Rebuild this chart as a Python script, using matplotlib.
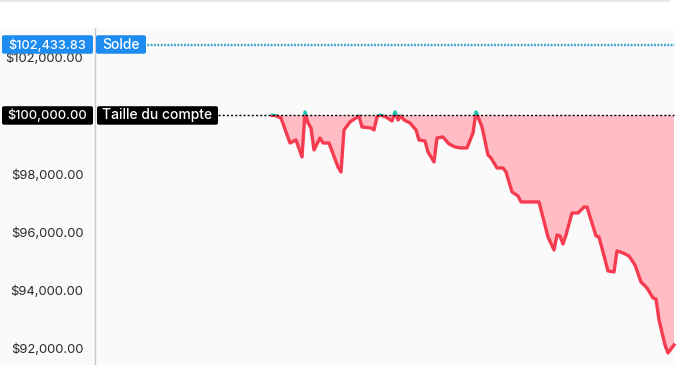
import matplotlib
matplotlib.use("Agg")
import matplotlib.pyplot as plt
import matplotlib.transforms as mtransforms
from matplotlib.patches import FancyBboxPatch, Rectangle
from matplotlib.lines import Line2D
import numpy as np

plt.rcParams['font.family'] = ['Inter', 'DejaVu Sans']

# ---- data ----
days = [0, 1, 3, 6, 8, 10, 11, 12, 13, 14, 16, 17, 19, 22, 23, 24, 26, 27, 29, 30,
        33, 34, 35, 36, 38, 40, 41, 42, 43, 44, 46, 48, 49, 51, 52, 54, 55, 57, 59, 61,
        63, 65, 67, 68, 70, 72, 73, 75, 77, 78, 80, 82, 83, 85, 89, 92, 94, 95, 96, 97,
        98, 100, 102, 104, 105, 108, 109, 112, 114, 115, 117, 119, 121, 123, 125, 127, 128, 129, 131, 132,
        134]
balance = [100000, 100000, 99914, 99057, 99160, 98576, 100120, 99743, 99571, 98817,
           99228, 99057, 99057, 98233, 98062, 99503, 99777, 99846, 99983, 99605,
           99571, 99503, 99949, 100017, 99949, 99811, 100120, 99846, 99983, 99846,
           99743, 99503, 99160, 99125, 98748, 98405, 99228, 99262, 99022, 98919,
           98885, 98885, 99400, 100120, 99605, 98645, 98542, 98199, 98199, 98062,
           97376, 97238, 97033, 97033, 97033, 95832, 95386, 95901, 95866, 95592,
           95901, 96655, 96655, 96861, 96861, 95866, 95832, 94666, 94631, 95352,
           95283, 95180, 94871, 94288, 94082, 93739, 93705, 92985, 92127, 91852,
           92127]
account_size = 100000.00
solde = 102433.83
# the 100,000 tick is covered by the account-size badge in the reference
yticks = [92000, 94000, 96000, 98000, 102000]
label_solde = "Solde"
label_size = "Taille du compte"

days = np.array(days, dtype=float)
balance = np.array(balance, dtype=float)

W, H = 680, 365
fig = plt.figure(figsize=(W / 100, H / 100), dpi=100, facecolor='white')

# background panel
bg = '#fafafa'
fig.patches.append(Rectangle((0, 0), 674 / W, 337 / H, transform=fig.transFigure,
                             facecolor=bg, edgecolor='none', zorder=-10))
fig.lines.append(Line2D([0, 670 / W], [1 - 0.5 / H, 1 - 0.5 / H], transform=fig.transFigure,
                        color='#e4e4e4', lw=1.2, zorder=-10))

ax = fig.add_axes([95 / W, 0, 579 / W, 337 / H])
ax.set_zorder(1)
ax.set_facecolor(bg)
ax.set_xlim(-59, 134)
ax.set_ylim(91440, 103000)

for s in ['top', 'right', 'bottom']:
    ax.spines[s].set_visible(False)
ax.spines['left'].set_color('#c9c9d3')
ax.spines['left'].set_linewidth(1)
ax.set_xticks([])
ax.set_yticks(yticks)
ax.set_yticklabels(['${:,.2f}'.format(v) for v in yticks])
ax.tick_params(axis='y', length=0, pad=8.5, labelsize=9.4, labelcolor='#2a2a2a')

red = '#f43b4f'
teal = '#1dbfae'
ax.fill_between(days, balance, account_size, where=balance <= account_size,
                interpolate=True, color='#ffbcc4', lw=0, zorder=1)
ax.fill_between(days, balance, account_size, where=balance >= account_size,
                interpolate=True, color='#9fe3da', lw=0, zorder=1)

l_teal, = ax.plot(days, balance, color=teal, lw=2.4, zorder=3, solid_joinstyle='round')
l_red, = ax.plot(days, balance, color=red, lw=2.4, zorder=3, solid_joinstyle='round')
clip_up = Rectangle((-100, account_size), 300, 10000, transform=ax.transData)
clip_dn = Rectangle((-100, 80000), 300, account_size - 80000, transform=ax.transData)
l_teal.set_clip_path(clip_up)
l_red.set_clip_path(clip_dn)

# pixel-x / data-y transform
px = mtransforms.Affine2D().scale(1 / W, 1) + fig.transFigure
blend = mtransforms.blended_transform_factory(px, ax.transData)
ppd = 58.3 / 2000.0  # pixels per data unit

# reference lines
ax.plot([218, 674], [account_size, account_size], transform=blend,
        color='black', lw=1, ls=(0, (1.5, 1.5)), zorder=4, clip_on=False)
ax.plot([147, 674], [solde + 0.9 / ppd, solde + 0.9 / ppd], transform=blend,
        color='#26b0a8', lw=1, ls=(0, (1.2, 1.2)), zorder=4, clip_on=False)
ax.plot([147, 674], [solde - 0.9 / ppd, solde - 0.9 / ppd], transform=blend,
        color='#2f8fe0', lw=1, ls=(0, (1.2, 1.2)), zorder=4, clip_on=False)


def box(x0, x1, yval, color, text, fs):
    h = 18.5 / ppd
    p = FancyBboxPatch((x0, yval - h / 2), x1 - x0, h, transform=blend,
                       boxstyle='round,pad=0,rounding_size=2', facecolor=color,
                       edgecolor='none', zorder=10, clip_on=False,
                       mutation_aspect=1 / ppd)
    ax.add_patch(p)
    ax.text((x0 + x1) / 2, yval, text, transform=blend, ha='center', va='center',
            color='white', fontsize=fs, fontweight='medium', zorder=11, clip_on=False)


blue = '#1c8cf0'
box(2, 93, solde, blue, '${:,.2f}'.format(solde), 9.2)
box(96, 146, solde, blue, label_solde, 10.0)
box(2, 93, account_size, 'black', '${:,.2f}'.format(account_size), 9.2)
box(97, 218, account_size, 'black', label_size, 10.0)

fig.savefig('out.png', dpi=100, facecolor='white')
